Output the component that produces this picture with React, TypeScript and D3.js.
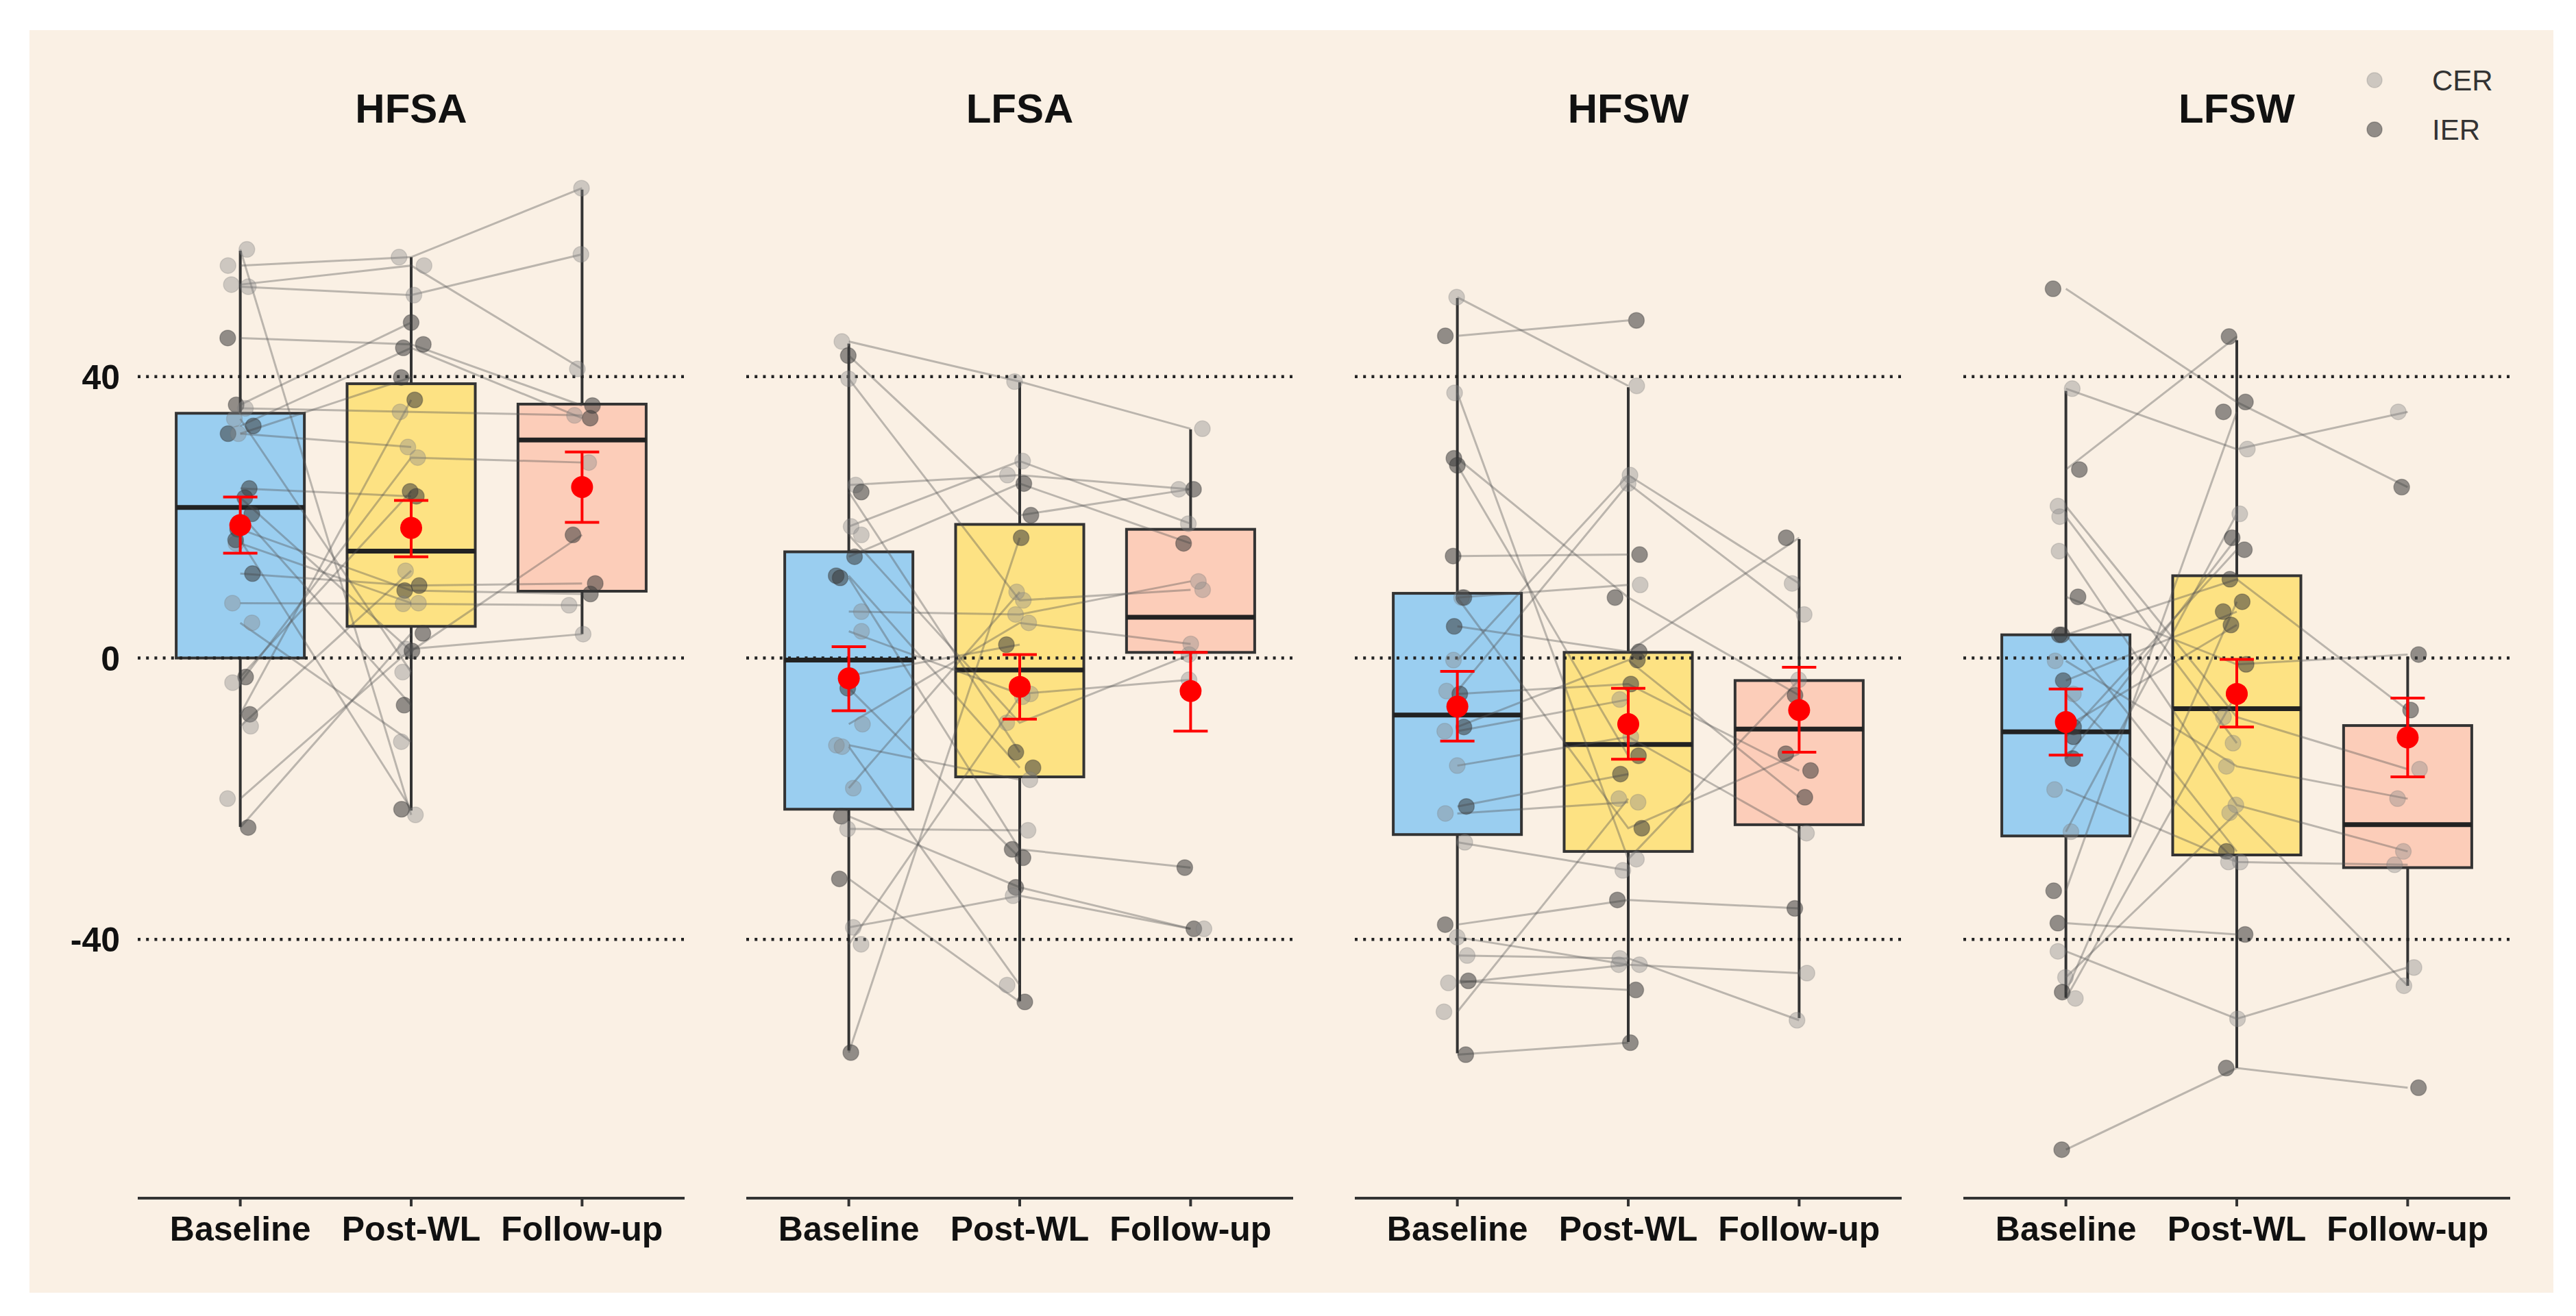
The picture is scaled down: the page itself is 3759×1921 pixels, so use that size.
import React from 'react';
import * as d3 from 'd3';

// ---------------- DATA ----------------
const panels = ['HFSA', 'LFSA', 'HFSW', 'LFSW'];
const timepoints = ['Baseline', 'Post-WL', 'Follow-up'];
const yTicks = [-40, 0, 40];
const legendGroups = ['CER', 'IER'];

// box statistics [panel][timepoint]
const boxLow = [[-24.0, -21.7, 3.4], [-55.8, -48.8, 0.5], [-56.2, -54.6, -51.2], [-48.3, -58.3, -46.6]];
const boxQ1 = [[0.0, 4.5, 9.5], [-21.5, -16.9, 0.8], [-25.1, -27.5, -23.7], [-25.3, -28.0, -29.8]];
const boxMedian = [[21.4, 15.2, 31.0], [-0.3, -1.7, 5.8], [-8.1, -12.3, -10.1], [-10.5, -7.2, -23.7]];
const boxQ3 = [[34.8, 39.0, 36.1], [15.1, 19.0, 18.3], [9.2, 0.8, -3.2], [3.3, 11.7, -9.6]];
const boxHigh = [[57.9, 57.0, 66.6], [44.7, 39.2, 32.5], [51.2, 38.5, 16.9], [38.0, 45.2, 0.2]];

// mean and error bar limits [panel][timepoint]
const meanValue = [[18.9, 18.5, 24.3], [-2.9, -4.1, -4.7], [-6.9, -9.4, -7.4], [-9.1, -5.1, -11.3]];
const errLow = [[14.9, 14.4, 19.3], [-7.5, -8.7, -10.4], [-11.8, -14.4, -13.4], [-13.8, -9.8, -16.9]];
const errHigh = [[22.9, 22.4, 29.3], [1.6, 0.5, 0.8], [-1.9, -4.3, -1.3], [-4.4, -0.2, -5.7]];

// individual subjects (index = subject)
const hfsaBaseline = [58.1, 55.8, 53.1, 52.8, 45.5, 36.0, 35.5, 33.0, 31.9, 31.9, 24.1, 18.3, 16.3, 12.0, 7.8, -2.7, -3.5, -8.0, -9.7, -20.0, -24.1, 22.8, 34.0, 20.5, 5.0, 16.8];
const hfsaPost = [-22.3, 57.0, 55.8, 51.6, 44.6, 47.7, 35.0, 44.1, 39.9, 30.0, 23.0, 9.6, 7.8, 10.3, 7.7, 23.7, 28.5, 36.7, 12.4, 1.3, 3.5, 1.0, -2.0, -6.7, -11.9, -21.5];
const hfsaFollow = [null, 66.8, 41.1, 57.4, 35.9, null, 34.5, 34.1, null, null, null, 9.1, null, 10.6, 7.5, null, 27.8, null, null, 3.4, null, 17.5, null, null, null, null];
const hfsaGroup = ['CER', 'CER', 'CER', 'CER', 'IER', 'IER', 'CER', 'IER', 'IER', 'CER', 'IER', 'IER', 'CER', 'IER', 'CER', 'IER', 'CER', 'IER', 'CER', 'CER', 'IER', 'IER', 'CER', 'IER', 'CER', 'IER'];

const lfsaBaseline = [45.0, 43.0, 39.7, 24.6, 23.6, 18.7, 17.5, 14.4, 11.7, 11.4, 6.6, 3.8, -2.5, -4.3, -9.4, -12.4, -12.6, -18.5, -22.5, -24.3, -31.4, -38.3, -56.1, -40.7];
const lfsaPost = [39.3, 20.3, 8.2, 26.0, -13.4, 28.0, -9.2, 24.8, -15.6, -27.2, 6.2, -5.1, 1.9, -28.4, 5.0, -17.3, -46.5, 9.4, -32.6, -24.5, -48.9, -33.8, 17.1, -5.5];
const lfsaFollow = [32.6, 24.0, 9.7, 24.0, null, 19.1, 0.5, 16.3, null, -29.8, 10.9, -3.1, null, null, 2.0, null, null, null, -38.5, null, null, -38.5, null, null];
const lfsaGroup = ['CER', 'IER', 'CER', 'CER', 'IER', 'CER', 'CER', 'IER', 'IER', 'IER', 'CER', 'CER', 'IER', 'IER', 'CER', 'CER', 'CER', 'CER', 'IER', 'CER', 'IER', 'CER', 'IER', 'CER'];

const hfswBaseline = [51.3, 45.8, 37.7, 28.4, 27.4, 14.5, 8.6, 8.6, 4.5, -0.3, -4.7, -5.1, -9.8, -10.4, -15.3, -21.1, -22.1, -26.2, -37.9, -39.7, -42.3, -45.9, -46.2, -56.4, -50.3];
const hfswPost = [38.7, 48.0, -28.6, 8.6, -13.9, 14.7, 10.4, -24.2, 0.9, 26.0, 24.8, -3.7, -0.3, -5.9, -11.2, -16.5, -20.5, -30.2, -34.4, -43.6, -42.7, -47.2, -43.6, -54.7, -20.0];
const hfswFollow = [null, null, -3.1, -5.3, null, null, null, -13.6, 17.1, 10.6, 6.2, -16.0, -19.8, null, -24.9, null, null, null, -35.6, -44.8, -51.5, null, null, null, null];
const hfswGroup = ['CER', 'IER', 'CER', 'IER', 'IER', 'IER', 'CER', 'IER', 'IER', 'CER', 'CER', 'IER', 'IER', 'CER', 'CER', 'IER', 'CER', 'CER', 'IER', 'CER', 'CER', 'IER', 'CER', 'IER', 'CER'];

const lfswBaseline = [52.5, 38.3, 26.8, 21.6, 20.1, 15.2, 8.7, 3.3, 3.3, -0.4, -3.2, -5.1, -9.8, -11.2, -14.3, -18.7, -24.7, -33.1, -37.7, -41.7, -69.9, -45.4, -47.5, -48.4];
const lfswPost = [36.4, 29.7, 45.7, -8.4, -12.1, -20.9, -0.9, 11.2, -27.5, -15.4, 6.6, -29.0, 4.7, 15.4, 17.1, -29.0, 20.5, 35.0, -39.3, -51.3, -58.3, -22.0, 8.0, -5.0];
const lfswFollow = [24.3, 35.0, null, -15.8, null, -27.5, 0.5, -7.4, null, -20.0, null, -29.4, null, null, null, null, null, null, null, -44.0, -61.1, -46.6, null, null];
const lfswGroup = ['IER', 'CER', 'IER', 'CER', 'CER', 'CER', 'IER', 'IER', 'IER', 'CER', 'IER', 'CER', 'IER', 'IER', 'IER', 'CER', 'CER', 'IER', 'IER', 'CER', 'IER', 'CER', 'IER', 'CER'];

const subjectValues = [
  [hfsaBaseline, hfsaPost, hfsaFollow],
  [lfsaBaseline, lfsaPost, lfsaFollow],
  [hfswBaseline, hfswPost, hfswFollow],
  [lfswBaseline, lfswPost, lfswFollow],
];
const subjectGroups = [hfsaGroup, lfsaGroup, hfswGroup, lfswGroup];

// ---------------- LAYOUT / STYLE ----------------
const W = 3759;
const H = 1921;
const FONT = "'Liberation Sans', Arial, Helvetica, sans-serif";
const BG = '#FAF0E4';
const boxFills = ['#9ACEF0', '#FDE283', '#FCCDB9'];
const panelLeft0 = 201;
const panelWidth = 798;
const panelStride = 888;
const axisY = 1749;

const pointStyle: Record<string, { fill: string; opacity: number; stroke: string }> = {
  CER: { fill: '#8a8a8a', opacity: 0.4, stroke: '#777' },
  IER: { fill: '#3a3a3a', opacity: 0.55, stroke: '#333' },
};

export default function App() {
  const y = d3.scaleLinear().domain([-76.8, 73.3]).range([axisY, 208]);
  const rng = d3.randomUniform.source(d3.randomLcg(0.4242))(-20, 20);

  return (
    <svg
      width={W}
      height={H}
      style={{ position: 'absolute', left: 0, top: 0, display: 'block', background: '#fff' }}
      fontFamily={FONT}
    >
      <rect x={0} y={0} width={W} height={H} fill="#ffffff" />
      <rect x={43} y={44} width={3683} height={1843} fill={BG} />

      {/* y axis labels */}
      {yTicks.map((t) => (
        <text key={t} x={175} y={y(t)} dy="0.36em" textAnchor="end" fontSize={50} fontWeight="bold" fill="#111">
          {t}
        </text>
      ))}

      {panels.map((pname, pi) => {
        const left = panelLeft0 + pi * panelStride;
        const x = d3.scalePoint<string>().domain(timepoints).range([left, left + panelWidth]).padding(0.6);
        const step = x.step();
        const bw = step * 0.75;
        const vals = subjectValues[pi];
        const grp = subjectGroups[pi];
        const nSub = vals[0].length;
        // jittered x for points
        const jit = vals.map((arr) => arr.map(() => rng()));
        const lineGen = d3
          .line<{ t: string; v: number }>()
          .x((d) => x(d.t) as number)
          .y((d) => y(d.v));

        return (
          <g key={pname}>
            <text x={left + panelWidth / 2} y={179} textAnchor="middle" fontSize={60} fontWeight="bold" fill="#111">
              {pname}
            </text>

            {/* boxplots */}
            {timepoints.map((t, ti) => {
              const cx = x(t) as number;
              return (
                <g key={t}>
                  <line x1={cx} x2={cx} y1={y(boxQ3[pi][ti])} y2={y(boxHigh[pi][ti])} stroke="#333" strokeWidth={4} />
                  <line x1={cx} x2={cx} y1={y(boxQ1[pi][ti])} y2={y(boxLow[pi][ti])} stroke="#333" strokeWidth={4} />
                  <rect
                    x={cx - bw / 2}
                    y={y(boxQ3[pi][ti])}
                    width={bw}
                    height={y(boxQ1[pi][ti]) - y(boxQ3[pi][ti])}
                    fill={boxFills[ti]}
                    stroke="#333"
                    strokeWidth={4}
                  />
                  <line
                    x1={cx - bw / 2}
                    x2={cx + bw / 2}
                    y1={y(boxMedian[pi][ti])}
                    y2={y(boxMedian[pi][ti])}
                    stroke="#222"
                    strokeWidth={7}
                  />
                </g>
              );
            })}

            {/* dotted reference lines */}
            {yTicks.map((t) => (
              <line
                key={t}
                x1={left}
                x2={left + panelWidth}
                y1={y(t)}
                y2={y(t)}
                stroke="#222"
                strokeWidth={4.5}
                strokeDasharray="4 8.2"
              />
            ))}

            {/* subject lines */}
            {d3.range(nSub).map((si) => {
              const pts = timepoints
                .map((t, ti) => ({ t, v: vals[ti][si] as number | null }))
                .filter((d) => d.v !== null && d.v !== undefined) as { t: string; v: number }[];
              if (pts.length < 2) return null;
              return (
                <path key={si} d={lineGen(pts) || ''} fill="none" stroke="#555" strokeOpacity={0.38} strokeWidth={3} />
              );
            })}

            {/* subject points */}
            {timepoints.map((t, ti) =>
              vals[ti].map((v, si) => {
                if (v === null || v === undefined) return null;
                const st = pointStyle[grp[si]];
                return (
                  <circle
                    key={`${t}-${si}`}
                    cx={(x(t) as number) + jit[ti][si]}
                    cy={y(v)}
                    r={11.5}
                    fill={st.fill}
                    fillOpacity={st.opacity}
                    stroke={st.stroke}
                    strokeOpacity={st.opacity * 0.6}
                    strokeWidth={1.5}
                  />
                );
              })
            )}

            {/* mean +/- error */}
            {timepoints.map((t, ti) => {
              const cx = x(t) as number;
              return (
                <g key={`m-${t}`}>
                  <line x1={cx} x2={cx} y1={y(errLow[pi][ti])} y2={y(errHigh[pi][ti])} stroke="#ff0000" strokeWidth={4} />
                  <line x1={cx - 25} x2={cx + 25} y1={y(errLow[pi][ti])} y2={y(errLow[pi][ti])} stroke="#ff0000" strokeWidth={4} />
                  <line x1={cx - 25} x2={cx + 25} y1={y(errHigh[pi][ti])} y2={y(errHigh[pi][ti])} stroke="#ff0000" strokeWidth={4} />
                  <circle cx={cx} cy={y(meanValue[pi][ti])} r={16} fill="#ff0000" />
                </g>
              );
            })}

            {/* x axis */}
            <line x1={left} x2={left + panelWidth} y1={axisY} y2={axisY} stroke="#333" strokeWidth={4} />
            {timepoints.map((t) => (
              <g key={`ax-${t}`}>
                <line x1={x(t) as number} x2={x(t) as number} y1={axisY} y2={axisY + 12} stroke="#333" strokeWidth={4} />
                <text x={x(t) as number} y={1811} textAnchor="middle" fontSize={50} fontWeight="bold" fill="#111">
                  {t}
                </text>
              </g>
            ))}
          </g>
        );
      })}

      {/* legend */}
      {legendGroups.map((g, i) => {
        const st = pointStyle[g];
        const cy = 117 + i * 72;
        return (
          <g key={g}>
            <circle cx={3465} cy={cy} r={11} fill={st.fill} fillOpacity={st.opacity} stroke={st.stroke} strokeOpacity={st.opacity * 0.6} strokeWidth={1.5} />
            <text x={3549} y={cy} dy="0.36em" fontSize={42} fill="#333">
              {g}
            </text>
          </g>
        );
      })}
    </svg>
  );
}
